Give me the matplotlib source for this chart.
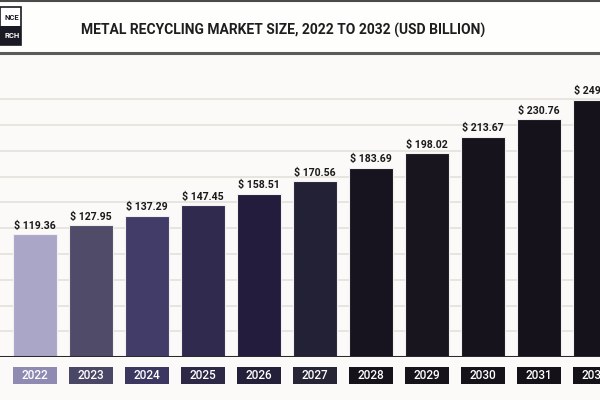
import matplotlib
matplotlib.use("Agg")
import matplotlib.pyplot as plt
from matplotlib.patches import Rectangle
from matplotlib.lines import Line2D
from matplotlib.transforms import blended_transform_factory

years = ["2022", "2023", "2024", "2025", "2026", "2027", "2028", "2029", "2030", "2031", "2032"]
values = [119.36, 127.95, 137.29, 147.45, 158.51, 170.56, 183.69, 198.02, 213.67, 230.76, 249.65]
bar_colors = ["#a9a6c8", "#4f4b68", "#423d68", "#302a4e", "#231c3d", "#232136",
              "#17141f", "#18151f", "#16131d", "#15121b", "#15121b"]
box_colors = ["#8e8ab2", "#4a4766", "#3b3761", "#2c2846", "#25203a", "#262435",
              "#151219", "#16131b", "#15121a", "#141118", "#141118"]
title = "METAL RECYCLING MARKET SIZE, 2022 TO 2032 (USD BILLION)"

FONT = ["Roboto", "DejaVu Sans"]
BG = "#fbfaf8"

W, H = 600, 400
fig = plt.figure(figsize=(6, 4), dpi=100, facecolor=BG)

ax_bottom = (H - 357) / H
ax_top = (H - 60) / H
ax = fig.add_axes([0, ax_bottom, 1, ax_top - ax_bottom])
ax.set_facecolor(BG)
px_per_cat = 56.0
first_center = 34.8
ax.set_xlim(-first_center / px_per_cat, (W - first_center) / px_per_cat)
ax.set_ylim(0, 297 / 1.03)

x = list(range(len(years)))
ax.bar(x, values, width=0.786, color=bar_colors, edgecolor="#f2f0ee", linewidth=0.8, zorder=3)

for yv in range(25, 251, 25):
    ax.axhline(yv, color="#e6e2de", linewidth=1.3, zorder=1)
ax.axhline(0, color="#2a2a2a", linewidth=2.2, zorder=4)

for xi, v in zip(x, values):
    ax.annotate(f"$ {v:.2f}", (xi, v), xytext=(0, 2.5), textcoords="offset points",
                ha="center", va="bottom", fontsize=7.6, fontweight="bold",
                color="#1a1a1a", family=FONT, zorder=5, annotation_clip=False)

for s in ax.spines.values():
    s.set_visible(False)
ax.set_xticks([])
ax.set_yticks([])

tr = blended_transform_factory(ax.transData, fig.transFigure)
for xi, yr, c in zip(x, years, box_colors):
    fig.patches.append(Rectangle((xi - 0.393, 16 / H), 0.786, 17 / H, transform=tr,
                                 facecolor=c, edgecolor="none", figure=fig))
    fig.text(xi, 24.5 / H, yr, transform=tr, ha="center", va="center",
             color="white", fontsize=8.5, family=FONT, fontweight="medium")

# header
fig.patches.append(Rectangle((0, (H - 53) / H), 1, 52 / H, transform=fig.transFigure,
                             facecolor="#fefefd", edgecolor="none", figure=fig, zorder=0))
fig.lines.append(Line2D([0, 1], [(H - 1) / H] * 2, transform=fig.transFigure,
                        color="#4a4a4a", linewidth=1.5))
fig.lines.append(Line2D([0, 1], [(H - 53) / H] * 2, transform=fig.transFigure,
                        color="#5a5a5a", linewidth=2.2))
fig.text(283 / W, (H - 30) / H, title, ha="center", va="center", fontsize=10,
         fontweight="bold", color="#1e1e1e", family=FONT)

# logo fragment
fig.patches.append(Rectangle((0, (H - 45) / H), 21 / W, 38 / H, transform=fig.transFigure,
                             facecolor="white", edgecolor="#1a1a24", linewidth=1.2, figure=fig))
fig.patches.append(Rectangle((0, (H - 45) / H), 21 / W, 19 / H, transform=fig.transFigure,
                             facecolor="#1a1a24", edgecolor="none", figure=fig))
fig.text(19.5 / W, (H - 17) / H, "NCE", ha="right", va="center", fontsize=5.5,
         color="#1a1a24", family=FONT, fontweight="bold")
fig.text(19.5 / W, (H - 36) / H, "RCH", ha="right", va="center", fontsize=5.5,
         color="white", family=FONT, fontweight="bold")

fig.savefig("out.png", dpi=100, facecolor=BG)
